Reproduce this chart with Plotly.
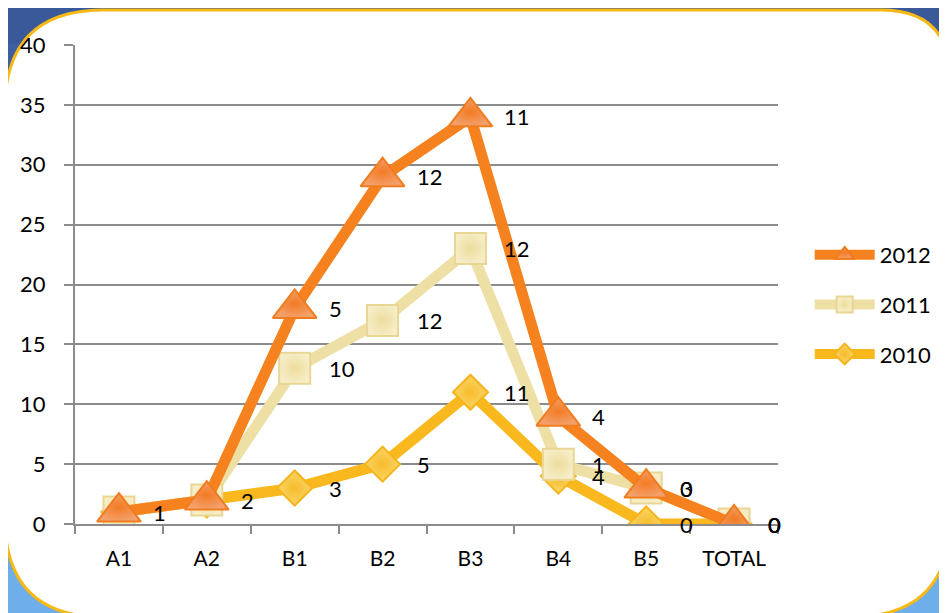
import plotly.graph_objects as go
import numpy as np

categories = ["A1", "A2", "B1", "B2", "B3", "B4", "B5", "TOTAL"]
values_2010 = [1, 2, 3, 5, 11, 4, 0, 0]
values_2011 = [0, 0, 10, 12, 12, 1, 3, 0]
values_2012 = [0, 0, 5, 12, 11, 4, 0, 0]
series_names = ["2010", "2011", "2012"]
unlabelled = {"2010": [], "2011": ["A1", "A2"], "2012": ["A1", "A2"]}
y_ticks = [0, 5, 10, 15, 20, 25, 30, 35, 40]

FONT = "Lato, 'Open Sans', sans-serif"
W, H = 947, 613
OFF = 8  # page offset of the figure inside the browser window
L, R, T, B = 68 - OFF, 778 - OFF, 45 - OFF, 524 - OFF  # plot area (figure px)


def px(x):
    """window x pixel -> paper x"""
    return (x - OFF - L) / (R - L)


def py(y):
    """window y pixel -> paper y"""
    return (B - (y - OFF)) / (B - T)


cum = np.cumsum(np.array([values_2010, values_2011, values_2012]), axis=0)
vals = {"2010": values_2010, "2011": values_2011, "2012": values_2012}

styles = {
    "2010": dict(line="#F9B81E", symbol="diamond", size=27, mcolor="#FBD466",
                 gcolor="#F7BC2A", mline="#F5B41A", rank=3),
    "2011": dict(line="#EEDFA4", symbol="square", size=31, mcolor="#F6EDC6",
                 gcolor="#EEDC9C", mline="#E9D594", rank=2),
    "2012": dict(line="#F5821F", symbol="triangle-up", size=38, mcolor="#F4A06C",
                 gcolor="#F27B22", mline="#F07C1E", rank=1),
}

fig = go.Figure()
for k, name in enumerate(series_names):
    s = styles[name]
    fig.add_trace(go.Scatter(
        x=categories, y=cum[k], name=name, mode="lines+markers",
        legendgroup=name, legendrank=s["rank"],
        line=dict(color=s["line"], width=11),
        marker=dict(symbol=s["symbol"], size=s["size"], color=s["mcolor"],
                    gradient=dict(type="radial", color=s["gcolor"]),
                    line=dict(color=s["mline"], width=2)),
        hoverinfo="skip",
    ))

annotations = []
for k, name in enumerate(series_names):
    for i, c in enumerate(categories):
        if c in unlabelled[name]:
            continue
        annotations.append(dict(
            x=c, y=cum[k][i], text=str(vals[name][i]), showarrow=False,
            xanchor="left", yanchor="middle", xshift=32,
            font=dict(family=FONT, size=22, color="#000000"),
        ))

shapes = []
# blue gradient backdrop
top_c = np.array([0x3A, 0x59, 0x99])
bot_c = np.array([0x6E, 0xAE, 0xEA])
n = 14
for j in range(n):
    t = j / (n - 1)
    c = (top_c * (1 - t) + bot_c * t).astype(int)
    y0 = j * H / n
    y1 = (j + 1) * H / n + 1
    shapes.append(dict(type="rect", xref="paper", yref="paper",
                       x0=px(-20), x1=px(W + 20), y0=py(y1), y1=py(y0 - 20 if j == 0 else y0),
                       fillcolor="rgb(%d,%d,%d)" % tuple(c), line=dict(width=0),
                       layer="below"))

# white rounded panel with gold border (window pixel coords)
lft, rgt, top, bot = -3, 952, 10, 617
r_tl, r_tr, r_bl, r_br = 100, 70, 100, 100
pts = [
    ("M", (lft, top + r_tl)),
    ("Q", (lft, top), (lft + r_tl, top)),
    ("L", (rgt - r_tr, top)),
    ("Q", (rgt, top), (rgt, top + r_tr)),
    ("L", (rgt, bot - r_br)),
    ("Q", (rgt, bot), (rgt - r_br, bot)),
    ("L", (lft + r_bl, bot)),
    ("Q", (lft, bot), (lft, bot - r_bl)),
]
path = ""
for p in pts:
    coords = " ".join("%.5f,%.5f" % (px(a), py(b)) for a, b in p[1:])
    path += p[0] + coords + " "
path += "Z"
shapes.append(dict(type="path", xref="paper", yref="paper", path=path,
                   fillcolor="#FFFFFF", line=dict(color="#F6B915", width=3),
                   layer="below"))

fig.update_layout(
    width=W, height=H,
    margin=dict(l=L, r=W - R, t=T, b=H - B, pad=0),
    paper_bgcolor="rgb(58,89,153)",
    plot_bgcolor="rgba(0,0,0,0)",
    font=dict(family=FONT, size=21, color="#000000"),
    shapes=shapes,
    annotations=annotations,
    showlegend=True,
    legend=dict(x=px(810), y=py(234), xanchor="left", yanchor="top",
                traceorder="grouped", tracegroupgap=18,
                font=dict(family=FONT, size=22, color="#000000"),
                bgcolor="rgba(0,0,0,0)", itemsizing="trace", itemwidth=60),
    xaxis=dict(
        type="category", range=[-0.5, len(categories) - 0.5],
        showgrid=False, showline=True, linecolor="#8C8C8C", linewidth=2,
        ticks="outside", tickson="boundaries", ticklen=8, tickwidth=2,
        tickcolor="#8C8C8C", ticklabelstandoff=15,
        tickfont=dict(family=FONT, size=21, color="#000000"),
        zeroline=False, fixedrange=True,
    ),
    yaxis=dict(
        range=[0, 40], tickvals=y_ticks, showgrid=True, gridcolor="#8C8C8C",
        gridwidth=2, showline=True, linecolor="#8C8C8C", linewidth=2,
        ticks="outside", ticklen=9, tickwidth=2, tickcolor="#8C8C8C",
        ticklabelstandoff=14, zeroline=False,
        tickfont=dict(family=FONT, size=22, color="#000000"),
    ),
)

fig.write_html("out.html")
